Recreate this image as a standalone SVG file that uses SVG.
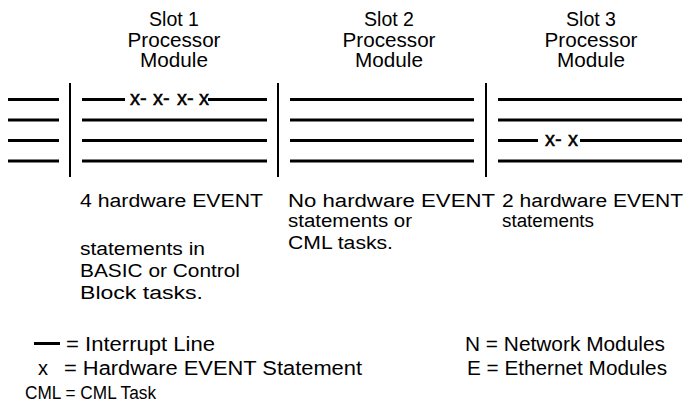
<svg xmlns="http://www.w3.org/2000/svg" width="686" height="402" viewBox="0 0 686 402">
<style>
text{font-family:"Liberation Sans",Arial,sans-serif;fill:#000;font-size:18px}
.t{text-anchor:middle;font-size:20px}
.lg{font-size:20px}
.bus{stroke:#000;stroke-width:3;fill:none}
.div{stroke:#000;stroke-width:2;fill:none}
.x{font-size:20px;stroke:#000;stroke-width:0.5}
</style>
<rect width="686" height="402" fill="#fff"/>
<g id="left-stubs">
<path class="bus" d="M8 99.5H59M8 120H59M8 140.5H59M8 161H59"/>
</g>
<g id="connectors">
<path class="div" d="M70 83V177M278 83V177M486 83V177"/>
</g>
<g id="slot1">
<text class="t" x="174" y="26" textLength="50" lengthAdjust="spacingAndGlyphs">Slot 1</text>
<text class="t" x="174" y="46.5" textLength="93" lengthAdjust="spacingAndGlyphs">Processor</text>
<text class="t" x="174" y="67" textLength="68" lengthAdjust="spacingAndGlyphs">Module</text>
<path class="bus" d="M82 99.5H125M208 99.5H267M82 120H267M82 140.5H267M82 161H267"/>
<text class="x" y="105"><tspan x="130">x- </tspan><tspan x="153">x- </tspan><tspan x="177">x-</tspan><tspan x="199">x</tspan></text>
<text x="80" y="206.5" textLength="183" lengthAdjust="spacingAndGlyphs">4 hardware EVENT</text>
<text x="80" y="255" textLength="125" lengthAdjust="spacingAndGlyphs">statements in</text>
<text x="80" y="277" textLength="160" lengthAdjust="spacingAndGlyphs">BASIC or Control</text>
<text x="80" y="299" textLength="123" lengthAdjust="spacingAndGlyphs">Block tasks.</text>
</g>
<g id="slot2">
<text class="t" x="389" y="26" textLength="50" lengthAdjust="spacingAndGlyphs">Slot 2</text>
<text class="t" x="389" y="46.5" textLength="93" lengthAdjust="spacingAndGlyphs">Processor</text>
<text class="t" x="389" y="67" textLength="68" lengthAdjust="spacingAndGlyphs">Module</text>
<path class="bus" d="M290 99.5H474M290 120H474M290 140.5H474M290 161H474"/>
<text x="288" y="206.5" textLength="207" lengthAdjust="spacingAndGlyphs">No hardware EVENT</text>
<text x="288" y="227" textLength="124" lengthAdjust="spacingAndGlyphs">statements or</text>
<text x="288" y="249" textLength="105" lengthAdjust="spacingAndGlyphs">CML tasks.</text>
</g>
<g id="slot3">
<text class="t" x="591" y="26" textLength="50" lengthAdjust="spacingAndGlyphs">Slot 3</text>
<text class="t" x="591" y="46.5" textLength="93" lengthAdjust="spacingAndGlyphs">Processor</text>
<text class="t" x="591" y="67" textLength="68" lengthAdjust="spacingAndGlyphs">Module</text>
<path class="bus" d="M498 99.5H682M498 120H682M498 140.5H538M580 140.5H682M498 161H682"/>
<text class="x" y="146"><tspan x="545">x- </tspan><tspan x="568">x</tspan></text>
<text x="502" y="206.5" textLength="181" lengthAdjust="spacingAndGlyphs">2 hardware EVENT</text>
<text x="502" y="227" textLength="92" lengthAdjust="spacingAndGlyphs">statements</text>
</g>
<g id="legend">
<path class="bus" d="M34 343.5H60"/>
<text class="lg" x="66" y="351" textLength="149" lengthAdjust="spacingAndGlyphs">= Interrupt Line</text>
<text class="lg" x="38" y="375">x</text>
<text class="lg" x="64" y="375" textLength="298" lengthAdjust="spacingAndGlyphs">= Hardware EVENT Statement</text>
<text x="25" y="399" textLength="131" lengthAdjust="spacingAndGlyphs">CML = CML Task</text>
<text class="lg" x="465" y="351" textLength="200" lengthAdjust="spacingAndGlyphs">N = Network Modules</text>
<text class="lg" x="467" y="375" textLength="200" lengthAdjust="spacingAndGlyphs">E = Ethernet Modules</text>
</g>
</svg>
